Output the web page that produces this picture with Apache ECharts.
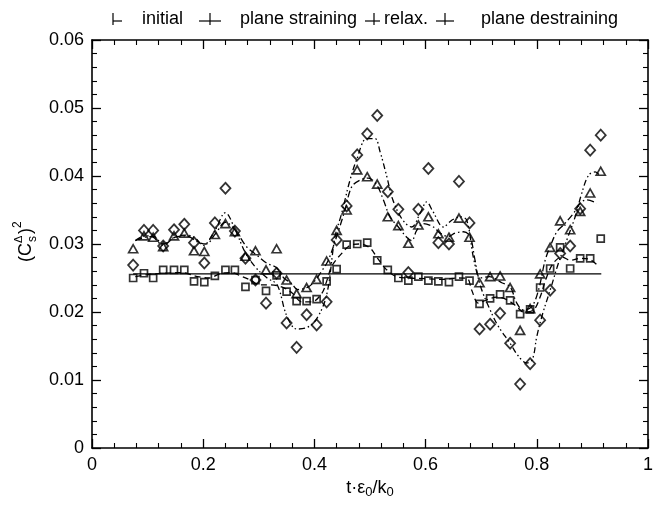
<!DOCTYPE html>
<html>
<head>
<meta charset="utf-8">
<script src="https://cdn.jsdelivr.net/npm/echarts@6/dist/echarts.min.js"></script>
<style>html,body{margin:0;padding:0;background:#fff}#c{width:658px;height:506px}</style>
</head>
<body>
<div id="c"></div>
<script>
// sample times (t·ε0/k0)
const tValues = [0.074,0.0935,0.110,0.128,0.1475,0.166,0.1835,0.202,0.221,0.240,0.257,0.276,0.294,0.313,0.332,0.350,0.368,0.386,0.404,0.422,0.440,0.458,0.477,0.495,0.513,0.532,0.551,0.569,0.587,0.605,0.623,0.642,0.660,0.679,0.697,0.716,0.734,0.752,0.770,0.788,0.806,0.824,0.842,0.860,0.878,0.896,0.915];
const diamondValues = [0.0269,0.0320,0.0320,0.0297,0.0321,0.0329,0.0302,0.0272,0.0331,0.0382,0.0319,0.0279,0.0247,0.0213,0.0257,0.0184,0.0148,0.0196,0.0181,0.0215,0.0306,0.0356,0.0431,0.0462,0.0489,0.0377,0.0351,0.0258,0.0351,0.0411,0.0302,0.0300,0.0392,0.0331,0.0175,0.0182,0.0198,0.0154,0.0094,0.0124,0.0188,0.0232,0.0286,0.0297,0.0352,0.0438,0.0460];
const triangleValues = [0.0293,0.0312,0.0310,0.0296,0.0312,0.0316,0.0290,0.0289,0.0314,0.0330,0.0318,0.0282,0.0290,0.0262,0.0293,0.0247,0.0227,0.0236,0.0248,0.0275,0.0320,0.0350,0.0409,0.0399,0.0388,0.0340,0.0327,0.0301,0.0328,0.0340,0.0315,0.0310,0.0338,0.0310,0.0243,0.0252,0.0253,0.0236,0.0173,0.0205,0.0256,0.0295,0.0334,0.0321,0.0348,0.0375,0.0407];
const squareValues = [0.0250,0.0257,0.0250,0.0262,0.0262,0.0262,0.0245,0.0244,0.0253,0.0262,0.0262,0.0237,0.0247,0.0231,0.0254,0.0230,0.0216,0.0216,0.0219,0.0245,0.0263,0.0299,0.0300,0.0302,0.0276,0.0262,0.0250,0.0246,0.0252,0.0246,0.0245,0.0244,0.0252,0.0246,0.0212,0.0220,0.0226,0.0217,0.0197,0.0204,0.0236,0.0264,0.0295,0.0264,0.0279,0.0279,0.0308];

// smoothed curves
const diamondCurveX = [0.078,0.095,0.11,0.128,0.15,0.17,0.185,0.2,0.22,0.24,0.257,0.276,0.295,0.315,0.333,0.35,0.368,0.386,0.404,0.422,0.437,0.449,0.464,0.476,0.494,0.509,0.518,0.53,0.541,0.559,0.575,0.59,0.602,0.613,0.632,0.647,0.662,0.674,0.686,0.70,0.715,0.73,0.752,0.767,0.782,0.792,0.80,0.81,0.824,0.839,0.854,0.869,0.881,0.893,0.905,0.914];
const diamondCurveY = [0.0305,0.0312,0.0310,0.0298,0.0311,0.0313,0.0309,0.0298,0.0318,0.0346,0.0322,0.0287,0.0265,0.0250,0.0240,0.0195,0.0175,0.0177,0.0190,0.0225,0.0310,0.0345,0.0394,0.0424,0.0455,0.0455,0.0436,0.0400,0.0365,0.0335,0.0325,0.0345,0.0362,0.0348,0.0325,0.0335,0.0340,0.0335,0.0280,0.0235,0.0205,0.0180,0.0154,0.0135,0.0125,0.0130,0.0164,0.0196,0.0232,0.0272,0.0306,0.0340,0.0375,0.0401,0.0406,0.0400];
const triCurveX = [0.078,0.095,0.11,0.128,0.15,0.17,0.19,0.205,0.222,0.24,0.258,0.278,0.296,0.314,0.332,0.345,0.359,0.37,0.389,0.40,0.413,0.425,0.44,0.455,0.467,0.482,0.497,0.512,0.524,0.536,0.551,0.566,0.575,0.584,0.596,0.614,0.626,0.641,0.653,0.668,0.68,0.689,0.698,0.715,0.737,0.752,0.764,0.776,0.791,0.803,0.815,0.824,0.836,0.848,0.866,0.878,0.89,0.908];
const triCurveY = [0.0305,0.0310,0.0311,0.0300,0.0310,0.0312,0.0303,0.0300,0.0315,0.0332,0.0320,0.0296,0.0284,0.0272,0.0265,0.0250,0.0242,0.0233,0.0237,0.0245,0.0260,0.0276,0.0311,0.0350,0.0384,0.0394,0.0397,0.0387,0.0365,0.0340,0.0325,0.0310,0.0305,0.0320,0.0330,0.0325,0.0316,0.0311,0.0316,0.0318,0.0311,0.0276,0.0250,0.0252,0.0243,0.0237,0.0213,0.0203,0.0208,0.0232,0.0276,0.0296,0.0318,0.0328,0.0345,0.0360,0.0365,0.0360];
const sqCurveX = [0.078,0.1,0.13,0.16,0.19,0.21,0.23,0.25,0.27,0.285,0.302,0.32,0.341,0.36,0.377,0.395,0.413,0.422,0.431,0.449,0.467,0.482,0.50,0.512,0.53,0.548,0.57,0.6,0.63,0.66,0.675,0.683,0.695,0.71,0.728,0.746,0.764,0.776,0.794,0.806,0.818,0.83,0.845,0.86,0.878,0.896,0.911];
const sqCurveY = [0.0252,0.0255,0.0257,0.0258,0.0252,0.0250,0.0256,0.0258,0.0252,0.0247,0.0240,0.0240,0.0237,0.0228,0.0215,0.0215,0.0227,0.0245,0.0267,0.0286,0.0299,0.0300,0.0294,0.0281,0.0262,0.0252,0.0250,0.0249,0.0248,0.0250,0.0249,0.0232,0.0213,0.0218,0.0222,0.0218,0.0208,0.0200,0.0203,0.0222,0.0252,0.0272,0.0281,0.0276,0.0279,0.0277,0.0267];

// reference (constant) level
const refLineX = [0.074, 0.916];
const refLineY = [0.0256, 0.0256];

// axis ticks
const xTicks = [0, 0.2, 0.4, 0.6, 0.8, 1];
const yTicks = [0, 0.01, 0.02, 0.03, 0.04, 0.05, 0.06];

// phase labels along the top
const phaseLabels = ['initial', 'plane straining', 'relax.', 'plane destraining'];

const zip = (xs, ys) => xs.map((x, i) => [x, ys[i]]);
const FONT = '"Liberation Sans", Arial, sans-serif';

const chart = echarts.init(document.getElementById('c'), null, {renderer: 'canvas'});

const axisCommon = () => ({
  axisLine: {show: true, onZero: false, lineStyle: {color: '#000', width: 1.6}},
  axisTick: {show: true, inside: true, length: 9, lineStyle: {color: '#000', width: 1.3}},
  minorTick: {show: true, splitNumber: 5, length: 5, lineStyle: {color: '#000', width: 1.1}},
  splitLine: {show: false},
  minorSplitLine: {show: false}
});

const option = {
  animation: false,
  backgroundColor: '#fff',
  grid: {left: 92, right: 10, top: 40, bottom: 58, containLabel: false},
  xAxis: [
    Object.assign({
      type: 'value', min: xTicks[0], max: xTicks[xTicks.length - 1], interval: 0.2,
      position: 'bottom',
      axisLabel: {color: '#000', fontSize: 18, fontFamily: FONT, margin: 8},
      name: '{n|t·ε}{s|0}{n|/k}{s|0}',
      nameLocation: 'middle', nameGap: 26,
      nameTextStyle: {
        fontFamily: FONT, color: '#000',
        rich: {
          n: {fontSize: 18, fontFamily: FONT, color: '#000'},
          s: {fontSize: 13, fontFamily: FONT, color: '#000', padding: [9, 0, 0, 0]}
        }
      }
    }, axisCommon()),
    Object.assign({
      type: 'value', min: xTicks[0], max: xTicks[xTicks.length - 1], interval: 0.2,
      position: 'top', axisLabel: {show: false}
    }, axisCommon())
  ],
  yAxis: [
    Object.assign({
      type: 'value', min: yTicks[0], max: yTicks[yTicks.length - 1], interval: 0.01,
      position: 'left',
      axisLabel: {color: '#000', fontSize: 18, fontFamily: FONT, margin: 8}
    }, axisCommon()),
    Object.assign({
      type: 'value', min: yTicks[0], max: yTicks[yTicks.length - 1], interval: 0.01,
      position: 'right', axisLabel: {show: false}
    }, axisCommon())
  ],
  series: [
    {
      type: 'line', data: zip(refLineX, refLineY), showSymbol: false, silent: true,
      lineStyle: {color: '#000', width: 1.4, type: 'solid'}, z: 2
    },
    {
      type: 'line', data: zip(diamondCurveX, diamondCurveY), showSymbol: false, smooth: 0.35, silent: true,
      lineStyle: {color: '#000', width: 1.3, type: [6, 3, 1.5, 2.5, 1.5, 3]}, z: 2
    },
    {
      type: 'line', data: zip(triCurveX, triCurveY), showSymbol: false, smooth: 0.35, silent: true,
      lineStyle: {color: '#000', width: 1.3, type: [7, 3, 1.5, 3]}, z: 2
    },
    {
      type: 'line', data: zip(sqCurveX, sqCurveY), showSymbol: false, smooth: 0.35, silent: true,
      lineStyle: {color: '#000', width: 1.3, type: [6, 4]}, z: 2
    },
    {
      type: 'scatter', data: zip(tValues, diamondValues), symbol: 'diamond', symbolSize: [10, 11],
      itemStyle: {color: 'rgba(255,255,255,0)', borderColor: '#000', borderWidth: 1.8}, z: 3
    },
    {
      type: 'scatter', data: zip(tValues, triangleValues), symbol: 'triangle', symbolSize: [9, 8],
      itemStyle: {color: 'rgba(255,255,255,0)', borderColor: '#000', borderWidth: 1.7}, z: 3
    },
    {
      type: 'scatter', data: zip(tValues, squareValues), symbol: 'rect', symbolSize: [7, 7],
      itemStyle: {color: 'rgba(255,255,255,0)', borderColor: '#000', borderWidth: 1.7}, z: 3
    }
  ]
};
chart.setOption(option);

// y-axis title (C_s^Δ)^2, rotated
const yTitle = {
  type: 'group', x: 26, y: 240, rotation: Math.PI / 2,
  children: [
    {type: 'text', x: -22, y: 0, style: {text: '(C', fontSize: 18, fontFamily: FONT, fill: '#000', verticalAlign: 'middle', align: 'left'}},
    {type: 'text', x: -3, y: -7, style: {text: 'Δ', fontSize: 11, fontFamily: FONT, fill: '#000', verticalAlign: 'middle', align: 'left'}},
    {type: 'text', x: -2, y: 7, style: {text: 's', fontSize: 12, fontFamily: FONT, fill: '#000', verticalAlign: 'middle', align: 'left'}},
    {type: 'text', x: 6, y: 0, style: {text: ')', fontSize: 18, fontFamily: FONT, fill: '#000', verticalAlign: 'middle', align: 'left'}},
    {type: 'text', x: 12, y: -8, style: {text: '2', fontSize: 12, fontFamily: FONT, fill: '#000', verticalAlign: 'middle', align: 'left'}}
  ]
};

// phase markers and labels along the top
const textY = 19;
const mk = (x, left, right) => ([
  {type: 'line', shape: {x1: x, y1: 13, x2: x, y2: 25}, style: {stroke: '#000', lineWidth: 1.2}},
  {type: 'line', shape: {x1: x - left, y1: 21, x2: x + right, y2: 21}, style: {stroke: '#000', lineWidth: 1.2}}
]);
const labelX = [142, 240, 384, 481];
const topGroup = {
  type: 'group',
  children: [].concat(
    mk(113, 0, 9), mk(210, 11, 11), mk(374, 9, 6), mk(445, 9, 9),
    phaseLabels.map((t, i) => ({
      type: 'text', x: labelX[i], y: textY,
      style: {text: t, fontSize: 18, fontFamily: FONT, fill: '#000', verticalAlign: 'middle', align: 'left'}
    }))
  )
};
chart.setOption({graphic: [yTitle, topGroup]});
</script>
</body>
</html>
